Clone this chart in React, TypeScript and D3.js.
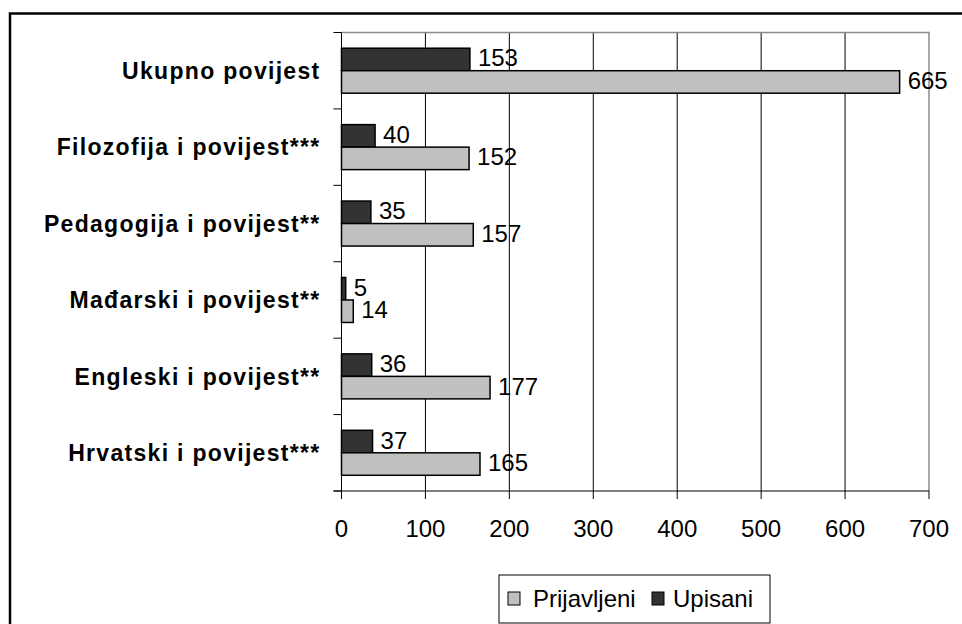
import React, {useEffect, useRef} from 'react';
import * as d3 from 'd3';

const categories = [
    'Ukupno povijest',
    'Filozofija i povijest***',
    'Pedagogija i povijest**',
    'Mađarski i povijest**',
    'Engleski i povijest**',
    'Hrvatski i povijest***',
];
const upisani = [153, 40, 35, 5, 36, 37];
const prijavljeni = [665, 152, 157, 14, 177, 165];
const xTicks = [0, 100, 200, 300, 400, 500, 600, 700];
const legendLabels = ['Prijavljeni', 'Upisani'];

const WIDTH = 962;
const HEIGHT = 624;
const FONT = 'Arial, "Liberation Sans", sans-serif';
const DARK = '#333333';
const LIGHT = '#c0c0c0';

const App: React.FC = () => {
    const svgRef = useRef<SVGSVGElement | null>(null);

    useEffect(() => {
        if (svgRef.current) {
            drawChart();
        }
    }, []);

    const drawChart = () => {
        const svg = d3.select(svgRef.current);
        svg.selectAll('*').remove();

        // outer frame (cut off at right and bottom in the reference)
        svg.append('rect')
            .attr('x', 10)
            .attr('y', 13.5)
            .attr('width', 1000)
            .attr('height', 700)
            .attr('fill', 'white')
            .attr('stroke', 'black')
            .attr('stroke-width', 2.5);

        const left = 341.5, right = 929, top = 32.5, bottom = 491;

        const x = d3.scaleLinear().domain([0, 700]).range([left, right]);
        const y = d3.scaleBand<string>().domain(categories).range([top, bottom]).padding(0);
        const barH = 22.5;
        const offset = (y.bandwidth() - barH * 2) / 2;

        // gridlines
        svg.append('g')
            .selectAll('line')
            .data(xTicks.filter((t) => t > 0 && t < 700))
            .enter()
            .append('line')
            .attr('x1', (d) => x(d))
            .attr('x2', (d) => x(d))
            .attr('y1', top)
            .attr('y2', bottom)
            .attr('stroke', 'black')
            .attr('stroke-width', 1);

        // plot border top/right (grey)
        svg.append('path')
            .attr('d', `M${left},${top}H${right}V${bottom}`)
            .attr('fill', 'none')
            .attr('stroke', '#8c8c8c')
            .attr('stroke-width', 1.5);

        // bars
        const groups = svg.append('g')
            .selectAll('g')
            .data(categories)
            .enter()
            .append('g')
            .attr('transform', (d) => `translate(0,${y(d)})`);

        groups.append('rect')
            .attr('x', left)
            .attr('y', offset)
            .attr('width', (_d, i) => x(upisani[i]) - left)
            .attr('height', barH)
            .attr('fill', DARK)
            .attr('stroke', 'black')
            .attr('stroke-width', 1.5);

        groups.append('rect')
            .attr('x', left)
            .attr('y', offset + barH)
            .attr('width', (_d, i) => x(prijavljeni[i]) - left)
            .attr('height', barH)
            .attr('fill', LIGHT)
            .attr('stroke', 'black')
            .attr('stroke-width', 1.5);

        groups.append('text')
            .attr('x', (_d, i) => x(upisani[i]) + 8)
            .attr('y', offset + barH / 2 + 7)
            .style('font-family', FONT)
            .style('font-size', '24px')
            .style('fill', 'black')
            .text((_d, i) => upisani[i]);

        groups.append('text')
            .attr('x', (_d, i) => x(prijavljeni[i]) + 8)
            .attr('y', offset + barH * 1.5 + 7)
            .style('font-family', FONT)
            .style('font-size', '24px')
            .style('fill', 'black')
            .text((_d, i) => prijavljeni[i]);

        // category labels
        groups.append('text')
            .attr('x', 320.5)
            .attr('y', y.bandwidth() / 2 + 8.3)
            .attr('text-anchor', 'end')
            .style('font-family', FONT)
            .style('font-size', '23px')
            .style('font-weight', 'bold')
            .style('letter-spacing', '1.3px')
            .style('fill', 'black')
            .text((d) => d);

        // left axis with category ticks
        const bounds = categories.map((c) => y(c) as number).concat([bottom]);
        svg.append('line')
            .attr('x1', left).attr('x2', left)
            .attr('y1', top).attr('y2', bottom)
            .attr('stroke', 'black').attr('stroke-width', 1);
        svg.append('g')
            .selectAll('line')
            .data(bounds)
            .enter()
            .append('line')
            .attr('x1', left - 8).attr('x2', left)
            .attr('y1', (d) => d).attr('y2', (d) => d)
            .attr('stroke', 'black').attr('stroke-width', 1);

        // bottom axis
        svg.append('line')
            .attr('x1', left - 8).attr('x2', right)
            .attr('y1', bottom).attr('y2', bottom)
            .attr('stroke', 'black').attr('stroke-width', 1.2);
        const xAxis = svg.append('g');
        xAxis.selectAll('line')
            .data(xTicks)
            .enter()
            .append('line')
            .attr('x1', (d) => x(d)).attr('x2', (d) => x(d))
            .attr('y1', bottom).attr('y2', bottom + 8)
            .attr('stroke', 'black').attr('stroke-width', 1);
        xAxis.selectAll('text')
            .data(xTicks)
            .enter()
            .append('text')
            .attr('x', (d) => x(d))
            .attr('y', 537)
            .attr('text-anchor', 'middle')
            .style('font-family', FONT)
            .style('font-size', '24px')
            .style('fill', 'black')
            .text((d) => d);

        // legend
        const legend = svg.append('g').attr('transform', 'translate(499,575)');
        legend.append('rect')
            .attr('width', 271)
            .attr('height', 48)
            .attr('fill', 'white')
            .attr('stroke', 'black')
            .attr('stroke-width', 1);
        const items = [
            {label: legendLabels[0], color: LIGHT, sx: 9, tx: 34},
            {label: legendLabels[1], color: DARK, sx: 153, tx: 174},
        ];
        items.forEach((it) => {
            legend.append('rect')
                .attr('x', it.sx)
                .attr('y', 17)
                .attr('width', 12)
                .attr('height', 13)
                .attr('fill', it.color)
                .attr('stroke', 'black')
                .attr('stroke-width', 1);
            legend.append('text')
                .attr('x', it.tx)
                .attr('y', 32)
                .style('font-family', FONT)
                .style('font-size', '24px')
                .style('fill', 'black')
                .text(it.label);
        });
    };

    return (
        <svg
            ref={svgRef}
            width={WIDTH}
            height={HEIGHT}
            style={{position: 'absolute', left: 0, top: 0, background: 'white'}}
        ></svg>
    );
};

export default App;
